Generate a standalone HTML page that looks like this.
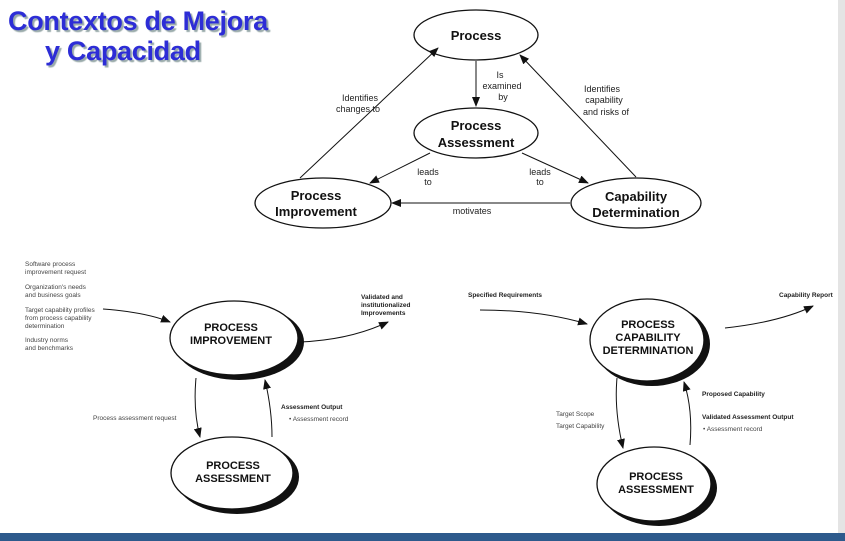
<!DOCTYPE html>
<html><head><meta charset="utf-8"><style>
body{margin:0;width:845px;height:541px;overflow:hidden;background:#fff;font-family:"Liberation Sans",sans-serif;position:relative}
.t{position:absolute;left:8px;top:6px;font-weight:bold;font-size:27px;color:#2d2dd6;line-height:30px;text-shadow:2px 2px 1px #9aa;letter-spacing:-0.3px}
</style></head><body>
<div class="t">Contextos de Mejora<br><span style="padding-left:37px">y Capacidad</span></div>
<svg width="845" height="541" style="position:absolute;left:0;top:0" font-family="Liberation Sans, sans-serif">
<defs><marker id="a" markerWidth="10" markerHeight="8" refX="9" refY="4" orient="auto" markerUnits="userSpaceOnUse"><path d="M0,0L10,4L0,8z" fill="#111"/></marker></defs>
<rect x="838" y="0" width="7" height="533" fill="#e4e4e4"/>
<text x="18" y="535" font-size="13" fill="#333">Herramientas IS2</text>
<rect x="0" y="525" width="400" height="8" fill="#fff"/>
<rect x="0" y="533" width="845" height="8" fill="#2d5a8c"/>
<g fill="#fff" stroke="#111" stroke-width="1.3">
<ellipse cx="476" cy="35" rx="62" ry="25"/>
<ellipse cx="476" cy="133" rx="62" ry="25"/>
<ellipse cx="323" cy="203" rx="68" ry="25"/>
<ellipse cx="636" cy="203" rx="65" ry="25"/>
</g>
<g stroke="#111" stroke-width="1" fill="none" marker-end="url(#a)">
<line x1="476" y1="61" x2="476" y2="106"/>
<line x1="300" y1="178" x2="438" y2="48"/>
<line x1="636" y1="177" x2="520" y2="55"/>
<line x1="430" y1="153" x2="370" y2="183"/>
<line x1="522" y1="153" x2="588" y2="183"/>
<line x1="570" y1="203" x2="392" y2="203"/>
</g>
<g font-size="13" font-weight="bold" text-anchor="middle" fill="#111">
<text x="476" y="40">Process</text>
<text x="476" y="130">Process</text><text x="476" y="147">Assessment</text>
<text x="316" y="200">Process</text><text x="316" y="216">Improvement</text>
<text x="636" y="201">Capability</text><text x="636" y="217">Determination</text>
</g>
<g font-size="9" text-anchor="middle" fill="#222">
<text x="500" y="78">Is</text><text x="502" y="89">examined</text><text x="503" y="100">by</text>
<text x="360" y="101">Identifies</text><text x="358" y="112">changes to</text>
<text x="602" y="92">Identifies</text><text x="604" y="103">capability</text><text x="606" y="115">and risks of</text>
<text x="428" y="175">leads</text><text x="428" y="185">to</text>
<text x="540" y="175">leads</text><text x="540" y="185">to</text>
<text x="472" y="214">motivates</text>
</g>
<g fill="#111">
<ellipse cx="239" cy="342" rx="65" ry="38"/>
<ellipse cx="237" cy="477" rx="62" ry="37"/>
<ellipse cx="652" cy="344" rx="58" ry="42"/>
<ellipse cx="659" cy="488" rx="58" ry="38"/>
</g>
<g fill="#fff" stroke="#111" stroke-width="1.3">
<ellipse cx="234" cy="338" rx="64" ry="37"/>
<ellipse cx="232" cy="473" rx="61" ry="36"/>
<ellipse cx="647" cy="340" rx="57" ry="41"/>
<ellipse cx="654" cy="484" rx="57" ry="37"/>
</g>
<g font-size="11" font-weight="bold" text-anchor="middle" fill="#111">
<text x="231" y="331">PROCESS</text><text x="231" y="344">IMPROVEMENT</text>
<text x="233" y="469">PROCESS</text><text x="233" y="482">ASSESSMENT</text>
<text x="648" y="328">PROCESS</text><text x="648" y="341">CAPABILITY</text><text x="648" y="354">DETERMINATION</text>
<text x="656" y="480">PROCESS</text><text x="656" y="493">ASSESSMENT</text>
</g>
<g stroke="#111" stroke-width="1" fill="none" marker-end="url(#a)">
<path d="M103,309 Q145,312 170,322"/>
<path d="M300,342 Q350,340 388,322"/>
<path d="M196,378 Q193,410 200,437"/>
<path d="M272,437 Q272,410 265,380"/>
<path d="M480,310 Q540,310 587,324"/>
<path d="M725,328 Q780,322 813,306"/>
<path d="M617,378 Q614,410 623,448"/>
<path d="M690,445 Q693,410 684,382"/>
</g>
<g font-size="6.5" fill="#444">
<text x="25" y="266">Software process</text><text x="25" y="274">improvement request</text>
<text x="25" y="289">Organization's needs</text><text x="25" y="297">and business goals</text>
<text x="25" y="312">Target capability profiles</text><text x="25" y="320">from process capability</text><text x="25" y="328">determination</text>
<text x="25" y="342">Industry norms</text><text x="25" y="350">and benchmarks</text>
<text x="93" y="420">Process assessment request</text>
<text x="289" y="421">•  Assessment record</text>
<text x="556" y="416">Target Scope</text><text x="556" y="428">Target Capability</text>
<text x="703" y="431">•  Assessment record</text>
</g>
<g font-size="6.5" font-weight="bold" fill="#222">
<text x="361" y="299">Validated and</text><text x="361" y="307">institutionalized</text><text x="361" y="315">Improvements</text>
<text x="281" y="409">Assessment  Output</text>
<text x="468" y="297">Specified Requirements</text>
<text x="779" y="297">Capability Report</text>
<text x="702" y="396">Proposed Capability</text>
<text x="702" y="419">Validated Assessment Output</text>
</g>
</svg>
</body></html>
